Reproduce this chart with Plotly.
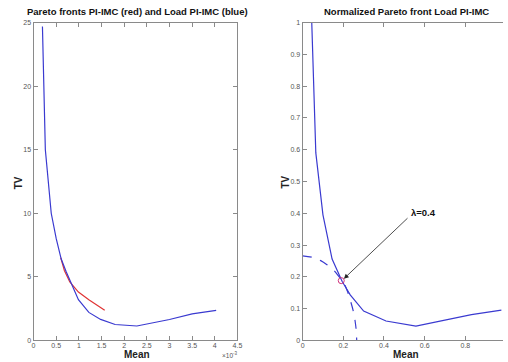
import plotly.graph_objects as go

# Left panel: Pareto fronts (Mean in units of 1e-3)
blue_mean = [0.196, 0.246, 0.26, 0.39, 0.5, 0.61, 0.72, 0.99, 1.22, 1.48, 1.8, 2.28, 3.0, 3.5, 4.03]
blue_tv = [24.7, 17.2, 15.0, 10.0, 8.0, 6.4, 5.4, 3.2, 2.2, 1.65, 1.25, 1.13, 1.64, 2.08, 2.36]
red_mean = [0.6, 0.68, 0.8, 0.99, 1.22, 1.4, 1.57]
red_tv = [6.5, 5.5, 4.6, 3.8, 3.2, 2.75, 2.36]

# Right panel: normalized Pareto front
norm_mean = [0.045, 0.061, 0.065, 0.10, 0.126, 0.145, 0.194, 0.234, 0.30, 0.41, 0.557, 0.70, 0.83, 0.977]
norm_tv = [1.0, 0.688, 0.59, 0.395, 0.318, 0.256, 0.186, 0.143, 0.092, 0.061, 0.045, 0.063, 0.081, 0.095]
dash_mean = [0.0, 0.05, 0.089, 0.12, 0.154, 0.18, 0.2, 0.22, 0.234, 0.25, 0.258, 0.263, 0.266]
dash_tv = [0.266, 0.261, 0.251, 0.238, 0.22, 0.2, 0.184, 0.155, 0.127, 0.09, 0.061, 0.035, 0.0]
sel_mean = [0.19]
sel_tv = [0.188]
lam_label = "λ=0.4"

left_xticks = [0, 0.5, 1, 1.5, 2, 2.5, 3, 3.5, 4, 4.5]
left_yticks = [0, 5, 10, 15, 20, 25]
right_xticks = [0, 0.2, 0.4, 0.6, 0.8, 1]
right_yticks = [0, 0.1, 0.2, 0.3, 0.4, 0.5, 0.6, 0.7, 0.8, 0.9, 1]

BLUE = "#3a3ad0"
RED = "#e03535"
AX = "#8a8a8a"
FONT = "Liberation Sans, Arial, sans-serif"
W, H = 508, 362

fig = go.Figure()
fig.add_trace(go.Scatter(x=red_mean, y=red_tv, mode="lines", line=dict(color=RED, width=1.2), xaxis="x", yaxis="y", showlegend=False))
fig.add_trace(go.Scatter(x=blue_mean, y=blue_tv, mode="lines", line=dict(color=BLUE, width=1.2), xaxis="x", yaxis="y", showlegend=False))
fig.add_trace(go.Scatter(x=dash_mean, y=dash_tv, mode="lines", line=dict(color=BLUE, width=1.2, dash="dash", shape="spline"), xaxis="x2", yaxis="y2", showlegend=False))
fig.add_trace(go.Scatter(x=norm_mean, y=norm_tv, mode="lines", line=dict(color=BLUE, width=1.2), xaxis="x2", yaxis="y2", showlegend=False))
fig.add_trace(go.Scatter(x=sel_mean, y=sel_tv, mode="markers", marker=dict(symbol="circle-open", size=6, color="#d0307a", line=dict(width=1)), xaxis="x2", yaxis="y2", showlegend=False))

tickfont = dict(family=FONT, size=7, color="#555555")
common = dict(showline=True, linecolor=AX, linewidth=1, ticks="inside", ticklen=4, tickcolor=AX,
              showgrid=False, zeroline=False, tickfont=tickfont)
labfont = dict(family=FONT, size=10, color="#222222")
titfont = dict(family=FONT, size=9.5, color="#111111")


def px(xp, yp):
    return xp / W, 1 - yp / H


def label(text, xp, yp, angle=0, font=labfont):
    x, y = px(xp, yp)
    return dict(text=text, x=x, y=y, xref="paper", yref="paper", xanchor="center", yanchor="middle",
                showarrow=False, textangle=angle, font=font)


fig.update_layout(
    width=W, height=H,
    margin=dict(l=0, r=0, t=0, b=0),
    paper_bgcolor="white", plot_bgcolor="white",
    xaxis=dict(domain=[0.063, 0.470], range=[0, 4.5], tickvals=left_xticks, mirror="ticks", anchor="y",
               ticklabelstandoff=-2, **common),
    yaxis=dict(domain=[0.0525, 0.9475], range=[0, 25], tickvals=left_yticks, mirror="ticks", anchor="x", **common),
    xaxis2=dict(domain=[0.600, 1.0], range=[0, 0.985], tickvals=right_xticks, mirror="ticks", anchor="y2",
                ticklabelstandoff=-2, **common),
    yaxis2=dict(domain=[0.0525, 0.9475], range=[0, 1], tickvals=right_yticks, mirror=False, anchor="x2", **common),
    annotations=[
        label("<b>Pareto fronts PI-IMC (red) and Load PI-IMC (blue)</b>", 137.5, 8, font=titfont),
        label("<b>Normalized Pareto front Load PI-IMC</b>", 410, 8, font=titfont),
        label("<b>Mean</b>", 136.7, 357.5),
        label("<b>Mean</b>", 409.5, 357.5),
        label("<b>TV</b>", 17, 182, angle=-90),
        label("<b>TV</b>", 287, 182, angle=-90),
        label("×10<sup>-3</sup>", 231, 357.5, font=dict(family=FONT, size=6.5, color="#555555")),
        dict(text="", x=0.203, y=0.194, ax=0.523, ay=0.389, xref="x2", yref="y2", axref="x2", ayref="y2",
             showarrow=True, arrowhead=2, arrowsize=1.2, arrowwidth=0.8, arrowcolor="#222222"),
        dict(text="<b>" + lam_label + "</b>", x=0.596, y=0.401, xref="x2", yref="y2", showarrow=False,
             font=dict(family=FONT, size=9.5, color="#111111")),
    ],
)

fig.write_html("out.html")
